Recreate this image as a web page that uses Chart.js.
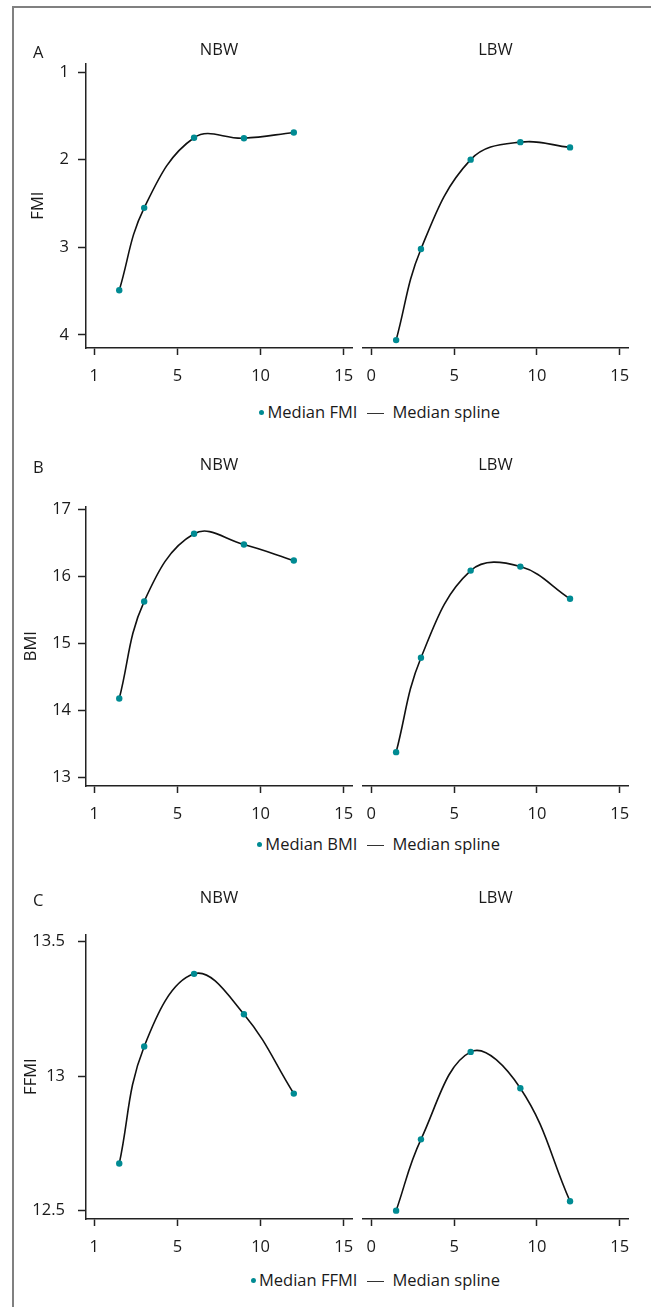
<!DOCTYPE html>
<html>
<head>
<meta charset="utf-8">
<script src="https://cdn.jsdelivr.net/npm/chart.js@4.4.1/dist/chart.umd.min.js"></script>
<style>
body { margin:0; background:#fff; font-family:"Open Sans", sans-serif; }
#fig { position:relative; width:651px; height:1307px; overflow:hidden; }
#frame { position:absolute; left:12px; top:6px; width:700px; height:1400px; border-left:2px solid #808080; border-top:2px solid #808080; }
canvas { position:absolute; }
.tag { position:absolute; left:33px; font-size:16.5px; color:#1a1a1a; line-height:20px; }
.legend { position:absolute; right:151px; font-size:16.5px; color:#1a1a1a; white-space:nowrap; line-height:20px; }
.dot { display:inline-block; width:5px; height:5px; border-radius:50%; background:#008b93; vertical-align:middle; margin-right:3px; position:relative; top:-1px; }
.dash { display:inline-block; width:17px; height:1.5px; background:#333; vertical-align:middle; margin:0 8px 0 10px; }
</style>
</head>
<body>
<div id="fig">
  <div id="frame"></div>
</div>
<script>
// ages (years) of the measurements
const ages = [1.5, 3, 6, 9, 12];
const xTickValues = [0, 5, 10, 15];
const nbwXLabels = ['1', '5', '10', '15'];
const lbwXLabels = ['0', '5', '10', '15'];
const groups = ['NBW', 'LBW'];

// median values
const fmiNBW = [3.49, 2.55, 1.75, 1.755, 1.69];
const fmiLBW = [4.06, 3.02, 2.0, 1.80, 1.86];
const bmiNBW = [14.18, 15.63, 16.64, 16.48, 16.24];
const bmiLBW = [13.38, 14.79, 16.09, 16.15, 15.67];
const ffmiNBW = [12.675, 13.11, 13.38, 13.23, 12.935];
const ffmiLBW = [12.5, 12.765, 13.09, 12.955, 12.535];

const fmiTicks = [1, 2, 3, 4];
const bmiTicks = [13, 14, 15, 16, 17];
const ffmiTicks = [12.5, 13, 13.5];

const teal = '#008b93';
const ink = '#1a1a1a';
const axisColor = '#222';
const font = { family: '"Open Sans", sans-serif', size: 16.5, weight: 'normal' };

const rows = [
  { tag: 'A', measure: 'FMI', nbw: fmiNBW, lbw: fmiLBW, ticks: fmiTicks, min: 0.9, max: 4.15, reverse: true,
    titleY: 50, areaTop: 63, areaBottom: 348, legendY: 412, tickPad: 9, yTitleX: 38 },
  { tag: 'B', measure: 'BMI', nbw: bmiNBW, lbw: bmiLBW, ticks: bmiTicks, min: 12.875, max: 17.05, reverse: false,
    titleY: 465, areaTop: 506, areaBottom: 786, legendY: 844, tickPad: 7, yTitleX: 31 },
  { tag: 'C', measure: 'FFMI', nbw: ffmiNBW, lbw: ffmiLBW, ticks: ffmiTicks, min: 12.469, max: 13.527, reverse: false,
    titleY: 898, areaTop: 934, areaBottom: 1219, legendY: 1280, tickPad: 13, yTitleX: 31 }
];

const fig = document.getElementById('fig');

function addCanvas(left, top, w, h) {
  const c = document.createElement('canvas');
  c.width = w; c.height = h;
  c.style.left = left + 'px'; c.style.top = top + 'px';
  c.style.width = w + 'px'; c.style.height = h + 'px';
  fig.appendChild(c);
  return c;
}

function makeChart(canvas, row, group, values, xLabels, showY, padL, padR) {
  const pts = ages.map((a, i) => ({ x: a, y: values[i] }));
  return new Chart(canvas, {
    type: 'line',
    data: {
      datasets: [
        { label: 'Median ' + row.measure, data: pts, showLine: false, pointRadius: 3.2,
          pointBackgroundColor: teal, pointBorderWidth: 0, pointHoverRadius: 3.2 },
        { label: 'Median spline', data: pts, borderColor: '#111', borderWidth: 1.6,
          pointRadius: 0, tension: 0.4, fill: false }
      ]
    },
    options: {
      responsive: false,
      animation: false,
      events: [],
      layout: { padding: { left: padL, right: padR, top: 0, bottom: 0 } },
      plugins: {
        legend: { display: false },
        tooltip: { enabled: false },
        title: {
          display: true, text: group, fullSize: false, color: ink, font: font,
          padding: { top: 10.4, bottom: row.areaTop - row.titleY - 9.9 }
        }
      },
      scales: {
        x: {
          type: 'linear', min: -0.5, max: 15.5,
          afterBuildTicks: s => { s.ticks = xTickValues.map(v => ({ value: v })); },
          afterFit: s => { s.height = 45; },
          ticks: { callback: (v, i) => xLabels[i], font: font, color: ink, padding: 11, maxRotation: 0, autoSkip: false },
          grid: { drawOnChartArea: false, tickLength: 7, tickWidth: 1.5, tickColor: axisColor },
          border: { color: axisColor, width: 1.5 }
        },
        y: {
          display: showY, min: row.min, max: row.max, reverse: row.reverse,
          afterBuildTicks: s => { s.ticks = row.ticks.map(v => ({ value: v })); },
          afterFit: s => { if (showY) s.width = 86; },
          ticks: { font: font, color: ink, padding: row.tickPad, callback: v => String(v) },
          grid: { drawOnChartArea: false, tickLength: 8, tickWidth: 1.5, tickColor: axisColor },
          border: { color: axisColor, width: 1.5 },
          title: { display: true, text: row.measure, font: font, color: ink,
                   padding: { top: row.yTitleX - 9.9, bottom: 0 } }
        }
      }
    }
  });
}

rows.forEach(row => {
  const top = row.titleY - 20;
  const h = row.areaBottom - top + 45;
  makeChart(addCanvas(0, top, 366, h), row, groups[0], row.nbw, nbwXLabels, true, 0, 14);
  makeChart(addCanvas(349, top, 293, h), row, groups[1], row.lbw, lbwXLabels, false, 14, 14);

  const tag = document.createElement('div');
  tag.className = 'tag';
  tag.style.top = (row.titleY - 8) + 'px';
  tag.textContent = row.tag;
  fig.appendChild(tag);

  const lg = document.createElement('div');
  lg.className = 'legend';
  lg.style.top = (row.legendY - 10) + 'px';
  lg.innerHTML = '<span class="dot"></span>Median ' + row.measure +
    '<span class="dash"></span>Median spline';
  fig.appendChild(lg);
});
</script>
</body>
</html>
